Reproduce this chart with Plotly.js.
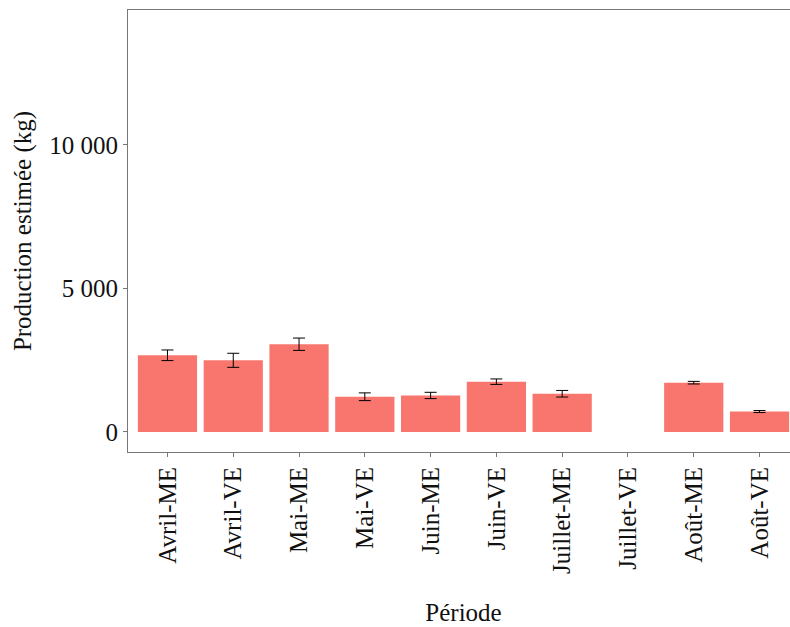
<!DOCTYPE html>
<html><head><meta charset="utf-8">
<script src="https://cdn.plot.ly/plotly-3.0.1.min.js"></script>
<style>html,body{margin:0;padding:0;overflow:hidden;background:#fff}</style>
</head><body><div id="chart"></div>
<script>
const categories = ["Avril-ME","Avril-VE","Mai-ME","Mai-VE","Juin-ME","Juin-VE","Juillet-ME","Juillet-VE","Août-ME","Août-VE"];
const production = [2670, 2495, 3055, 1225, 1270, 1750, 1330, null, 1715, 710];
const erreur = [185, 245, 215, 135, 110, 95, 115, null, 45, 35];
const yTickVals = [0, 5000, 10000];
const yTickText = ["0", "5 000", "10 000"];

const trace = {
  type: 'bar', x: categories, y: production, width: 0.9,
  marker: {color: '#F8766D'},
  error_y: {type: 'data', array: erreur, visible: true, color: '#000', thickness: 1, width: 6},
  hoverinfo: 'x+y'
};
const font = {family: 'Liberation Serif, Times New Roman, serif', size: 25, color: '#111'};
const layout = {
  width: 800, height: 627,
  margin: {l: 128, r: 1, t: 10, b: 175},
  paper_bgcolor: '#fff', plot_bgcolor: '#fff',
  font: font, showlegend: false,
  xaxis: {
    type: 'category', range: [-0.6, 9.6], tickangle: -90,
    showline: true, mirror: true, linecolor: '#777', linewidth: 1,
    ticks: 'outside', ticklen: 4, tickcolor: '#777', showgrid: false, zeroline: false,
    tickfont: font,
    title: {text: 'Période', font: font, standoff: 30}
  },
  yaxis: {
    range: [-700, 14700], tickvals: yTickVals, ticktext: yTickText,
    showline: true, mirror: true, linecolor: '#777', linewidth: 1,
    ticks: 'outside', ticklen: 4, tickcolor: '#777', showgrid: false, zeroline: false,
    tickfont: font,
    title: {text: 'Production estimée (kg)', font: font, standoff: 10}
  }
};
Plotly.newPlot('chart', [trace], layout, {displayModeBar: false, staticPlot: true});
</script></body></html>
